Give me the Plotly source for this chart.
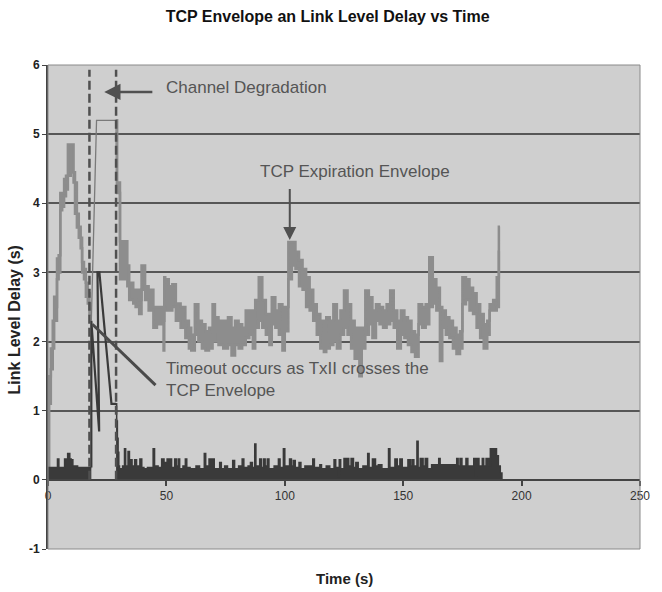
import plotly.graph_objects as go

# ---------------- data ----------------
# TCP expiration envelope, first part (block start x, low, high)
env1_x  = [0.0, 0.5, 1.2, 2.0, 2.6, 3.3, 3.8, 4.5, 5.2, 6.0, 6.8, 7.6, 8.4, 9.6, 10.8, 11.4, 12.2, 13.0, 13.8, 14.4, 15.2, 16.0, 16.8, 17.5]
env1_lo = [0.0, 1.1, 1.6, 1.9, 2.3, 2.3, 2.9, 3.0, 3.9, 3.95, 4.1, 4.2, 4.4, 4.45, 4.3, 3.85, 3.65, 3.5, 3.35, 3.0, 2.9, 2.65, 2.55, 2.4]
env1_hi = [1.1, 1.5, 1.9, 2.3, 2.65, 2.5, 3.2, 3.25, 4.15, 4.15, 4.35, 4.4, 4.85, 4.85, 4.45, 4.3, 3.85, 3.66, 3.5, 3.15, 3.05, 2.85, 2.7, 2.55]
env1_end = 18.3

# envelope during the channel degradation (thin line)
thin_x = [18.3, 20.5, 28.75, 28.9]
thin_y = [2.3, 5.2, 5.2, 4.25]

# TCP expiration envelope, second part
env2_x  = [28.75, 29.2, 30.4, 33.5, 34.3, 36.0, 37.0, 38.5, 39.5, 41.0, 42.5, 44.5, 46.0, 48.8, 49.1, 49.5,
           51.0, 52.5, 54.0, 56.0, 58.0, 59.5, 60.5, 62.0, 63.5, 65.0, 66.5, 68.0, 69.5, 70.5, 72.0, 74.0,
           76.0, 77.5, 79.0, 80.5, 82.0, 83.5, 85.0, 86.5, 87.5, 89.0, 90.5, 92.0, 93.5, 94.5, 96.0, 97.5,
           99.0, 100.0, 101.5, 103.0, 104.5, 106.0, 107.5, 109.0, 110.5, 112.0, 113.5, 115.0, 116.5, 117.5,
           119.0, 120.5, 122.0, 123.5, 125.0, 126.5, 128.0, 129.5, 130.5, 131.5, 132.5, 134.0, 135.5, 137.0,
           138.5, 140.0, 141.5, 143.0, 144.5, 146.0, 147.5, 149.0, 150.5, 152.0, 153.5, 155.0, 156.5, 158.0,
           159.5, 161.0, 162.5, 164.0, 165.5, 166.5, 168.0, 169.5, 171.0, 172.5, 174.0, 175.0, 176.5, 178.0,
           179.5, 181.0, 182.5, 184.0, 185.5, 186.5, 188.0, 189.5, 190.4]
env2_lo = [4.2, 4.15, 2.9, 2.8, 2.6, 2.55, 2.5, 2.4, 2.75, 2.6, 2.45, 2.2, 2.25, 1.87, 2.5, 2.45,
           2.45, 2.5, 2.3, 2.2, 2.05, 1.9, 1.87, 2.1, 2.0, 1.9, 1.87, 1.9, 2.1, 2.0, 1.95, 1.9,
           1.95, 1.8, 1.95, 1.9, 1.95, 2.05, 2.1, 1.9, 2.2, 2.3, 2.2, 2.1, 1.95, 2.25, 2.2, 2.1,
           1.87, 2.15, 2.9, 3.1, 3.05, 2.8, 2.75, 2.5, 2.45, 2.3, 2.1, 1.9, 1.85, 1.9,
           1.95, 2.0, 1.9, 2.1, 2.2, 2.1, 1.9, 1.75, 1.87, 1.5, 1.9, 2.1, 2.25, 2.05,
           2.3, 2.25, 2.2, 2.25, 2.3, 2.2, 1.9, 2.1, 2.05, 1.95, 1.85, 1.78, 2.25, 2.2,
           2.25, 2.5, 2.55, 2.45, 1.72, 2.2, 2.1, 2.05, 1.9, 1.82, 1.9, 2.54, 2.6, 2.45,
           2.4, 2.2, 2.05, 1.9, 2.1, 2.45, 2.45, 2.5, 3.3]
env2_hi = [5.2, 4.3, 3.45, 3.1, 2.85, 2.75, 2.75, 2.6, 3.1, 2.8, 2.75, 2.5, 2.5, 2.3, 2.93, 2.9,
           2.8, 2.83, 2.55, 2.5, 2.3, 2.2, 2.1, 2.54, 2.3, 2.25, 2.15, 2.2, 2.54, 2.35, 2.3, 2.3,
           2.35, 2.2, 2.3, 2.25, 2.2, 2.45, 2.45, 2.2, 2.6, 2.93, 2.6, 2.4, 2.3, 2.64, 2.45, 2.54,
           2.3, 2.5, 3.44, 3.44, 3.3, 3.18, 3.05, 2.93, 2.75, 2.54, 2.4, 2.3, 2.15, 2.35,
           2.3, 2.54, 2.3, 2.45, 2.74, 2.54, 2.3, 2.1, 2.2, 2.1, 2.2, 2.74, 2.64, 2.45,
           2.54, 2.5, 2.45, 2.54, 2.74, 2.45, 2.3, 2.45, 2.35, 2.3, 2.15, 2.1, 2.54, 2.5,
           2.54, 3.22, 2.9, 2.78, 2.5, 2.45, 2.35, 2.3, 2.2, 2.1, 2.15, 2.93, 2.9, 2.78,
           2.7, 2.54, 2.4, 2.25, 2.3, 2.54, 2.6, 2.93, 3.66]
env2_end = 190.9

# Link level delay TxII (step values), before and after the degradation
txa_x = [0.0, 4.0, 4.6, 7.0, 8.3, 9.2, 9.8, 10.5, 12.5, 18.3]
txa_y = [0.18, 0.3, 0.18, 0.3, 0.38, 0.3, 0.29, 0.2, 0.18, 0.18]

txb_x = [28.75, 29.0, 29.3, 29.6, 29.9, 30.2, 31.5, 32.3, 32.8, 33.8, 34.4, 35.5, 36.6, 37.4, 38.8, 39.6,
         40.5, 42.0, 44.4, 45.0, 46.5, 48.0, 49.0, 50.3, 51.3, 51.6, 52.2, 53.5, 54.2, 55.0, 55.6, 57.0,
         58.0, 58.6, 60.0, 62.5, 64.0, 66.0, 66.6, 68.0, 69.0, 69.5, 70.2, 72.5, 73.2, 74.6, 75.8, 78.0,
         78.8, 80.5, 82.0, 82.7, 84.5, 85.5, 86.3, 87.3, 87.8, 89.4, 90.1, 91.0, 91.7, 92.6, 93.3, 95.5,
         97.3, 98.0, 99.4, 100.0, 102.0, 102.8, 103.6, 104.4, 106.0, 106.8, 108.5, 111.8, 112.5, 114.8,
         115.5, 117.5, 119.0, 120.8, 121.5, 122.6, 123.0, 123.6, 125.0, 127.0, 128.0, 129.0, 130.0, 131.0,
         133.0, 135.0, 135.6, 137.0, 138.3, 139.5, 141.0, 143.8, 144.4, 146.5, 147.5, 148.6, 149.6, 152.0,
         153.0, 153.7, 154.5, 155.8, 156.3, 157.2, 158.4, 159.3, 160.3, 162.0, 165.0, 165.6, 168.0, 172.6,
         173.2, 174.0, 174.8, 176.5, 177.3, 179.8, 180.4, 181.0, 182.0, 183.4, 184.0, 185.0, 186.2, 186.8,
         189.4, 190.2, 191.0, 191.7]
txb_y = [1.1, 0.85, 0.6, 0.4, 0.2, 0.16, 0.2, 0.45, 0.2, 0.41, 0.29, 0.2, 0.29, 0.2, 0.3, 0.18,
         0.16, 0.18, 0.45, 0.2, 0.18, 0.3, 0.25, 0.3, 0.2, 0.3, 0.18, 0.3, 0.2, 0.3, 0.16, 0.2,
         0.3, 0.18, 0.16, 0.2, 0.16, 0.38, 0.2, 0.3, 0.2, 0.3, 0.16, 0.25, 0.16, 0.2, 0.16, 0.28,
         0.16, 0.2, 0.3, 0.18, 0.2, 0.25, 0.18, 0.52, 0.2, 0.3, 0.18, 0.3, 0.2, 0.3, 0.16, 0.2,
         0.3, 0.18, 0.45, 0.2, 0.3, 0.2, 0.28, 0.18, 0.25, 0.16, 0.2, 0.3, 0.18, 0.22,
         0.16, 0.2, 0.16, 0.29, 0.18, 0.05, 0.29, 0.16, 0.31, 0.2, 0.31, 0.18, 0.25, 0.16,
         0.2, 0.38, 0.18, 0.3, 0.2, 0.22, 0.16, 0.45, 0.18, 0.3, 0.2, 0.3, 0.18, 0.29,
         0.2, 0.29, 0.2, 0.56, 0.18, 0.31, 0.2, 0.31, 0.16, 0.22, 0.31, 0.22, 0.22, 0.31,
         0.2, 0.31, 0.2, 0.31, 0.2, 0.31, 0.06, 0.31, 0.2, 0.31, 0.2, 0.31, 0.2, 0.45,
         0.35, 0.2, 0.1, 0.0]

# TxII during the degradation (lines crossing the envelope)
cross_x = [18.3, 18.3, 21.6, 20.9, 21.7, 26.8, 28.75]
cross_y = [0.18, 2.3, 0.7, 3.0, 3.0, 1.1, 1.1]

# degradation boundaries
degr_start = 17.5
degr_end = 28.75

x_ticks = [0, 50, 100, 150, 200, 250]
y_ticks = [-1, 0, 1, 2, 3, 4, 5, 6]
y_tick_text = ["-1", "0", "1", "2", "3", "4", "5", "6"]

# ---------------- styles ----------------
ENV = "#8d8d8d"
TX = "#3a3a3a"
GRID = "#575757"
TXT = "#555555"
FONT = "Liberation Sans, Arial, sans-serif"

fig = go.Figure()

def band(xs, lo, hi, end):
    x = list(xs) + [end]
    l = list(lo) + [lo[-1]]
    h = list(hi) + [hi[-1]]
    fig.add_trace(go.Scatter(x=x, y=l, mode="lines", line=dict(color=ENV, width=2.5, shape="hv"),
                             showlegend=False, hoverinfo="skip"))
    fig.add_trace(go.Scatter(x=x, y=h, mode="lines", line=dict(color=ENV, width=2.5, shape="hv"),
                             fill="tonexty", fillcolor=ENV, showlegend=False, hoverinfo="skip"))

band(env1_x, env1_lo, env1_hi, env1_end)
fig.add_trace(go.Scatter(x=thin_x, y=thin_y, mode="lines", line=dict(color="#7a7a7a", width=1.3),
                         showlegend=False, hoverinfo="skip"))
band(env2_x, env2_lo, env2_hi, env2_end)

for xs, ys in ((txa_x, txa_y), (txb_x, txb_y)):
    fig.add_trace(go.Scatter(x=xs, y=ys, mode="lines", line=dict(color=TX, width=1.5, shape="hv"),
                             fill="tozeroy", fillcolor=TX, showlegend=False, hoverinfo="skip"))

fig.add_trace(go.Scatter(x=cross_x, y=cross_y, mode="lines", line=dict(color=TX, width=2.2),
                         showlegend=False, hoverinfo="skip"))

# dashed degradation lines
for xv in (degr_start, degr_end):
    fig.add_shape(type="line", x0=xv, x1=xv, y0=0, y1=5.93, xref="x", yref="y",
                  line=dict(color="#505050", width=2.5, dash="9px,4px"))

# pointer line from the timeout text to the crossing point
fig.add_shape(type="line", x0=18.75, y0=2.25, x1=45.4, y1=1.37, xref="x", yref="y",
              line=dict(color="#4a4a4a", width=3))

# plot border
fig.add_shape(type="rect", xref="paper", yref="paper", x0=0, x1=1, y0=0, y1=1,
              line=dict(color="#8a8a8a", width=1), layer="above")

# arrows
fig.add_annotation(x=23.75, y=5.61, ax=44.7, ay=5.61, axref="x", ayref="y", xref="x", yref="y",
                   text="", showarrow=True, arrowhead=2, arrowsize=1.3, arrowwidth=2.5, arrowcolor="#505050")
fig.add_annotation(x=102.1, y=3.47, ax=102.1, ay=4.23, axref="x", ayref="y", xref="x", yref="y",
                   text="", showarrow=True, arrowhead=2, arrowsize=1.3, arrowwidth=2, arrowcolor="#505050")

# texts
fig.add_annotation(x=48.8, y=5.67, xref="x", yref="y", text="Channel Degradation", showarrow=False,
                   xanchor="left", yanchor="middle", font=dict(family=FONT, size=17, color=TXT))
fig.add_annotation(x=88.5, y=4.455, xref="x", yref="y", text="TCP Expiration Envelope", showarrow=False,
                   xanchor="left", yanchor="middle", font=dict(family=FONT, size=17, color=TXT))
fig.add_annotation(x=48.8, y=1.78, xref="x", yref="y",
                   text="Timeout occurs as TxII crosses the<br>TCP Envelope", showarrow=False,
                   xanchor="left", yanchor="top", align="left", font=dict(family=FONT, size=17, color=TXT))

fig.add_annotation(x=-0.0568, y=0.473, xref="paper", yref="paper", text="Link Level Delay (s)",
                   textangle=-90, showarrow=False, xanchor="center", yanchor="middle",
                   font=dict(family=FONT, size=16, color="#222222", weight="bold"))
fig.add_annotation(x=0.5, y=-0.06, xref="paper", yref="paper", text="Time (s)", showarrow=False,
                   xanchor="center", yanchor="middle",
                   font=dict(family=FONT, size=15, color="#222222", weight="bold"))

fig.update_layout(
    width=662, height=592,
    margin=dict(l=48, r=15, t=65, b=43),
    paper_bgcolor="white",
    plot_bgcolor="#cfcfcf",
    title=dict(text="TCP Envelope an Link Level Delay vs Time", x=0.495, xanchor="center",
               y=1 - 16 / 592, yanchor="middle",
               font=dict(family=FONT, size=16, color="#111111", weight="bold")),
    showlegend=False,
    xaxis=dict(range=[0, 250], tickvals=x_ticks, anchor="free", position=1 / 7,
               showline=True, linecolor="#444444", linewidth=2, ticks="outside", ticklen=5,
               tickcolor="#444444", tickwidth=1.5, showgrid=False, zeroline=False,
               tickfont=dict(family=FONT, size=12, color="#333333")),
    yaxis=dict(range=[-1, 6], tickvals=y_ticks, ticktext=y_tick_text, showline=True,
               linecolor="#444444", linewidth=2,
               ticks="outside", ticklen=4, tickcolor="#444444", showgrid=True, gridcolor=GRID,
               gridwidth=2, zeroline=False,
               tickfont=dict(family=FONT, size=12, color="#222222", weight="bold")),
)

fig.write_html("out.html")
